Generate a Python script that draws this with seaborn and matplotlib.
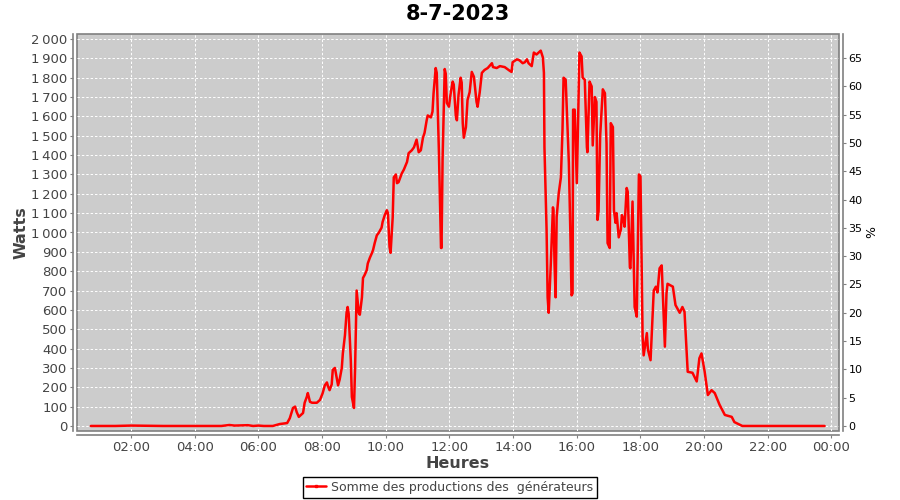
import matplotlib
matplotlib.use('Agg')
import pandas as pd
import matplotlib.pyplot as plt
import seaborn as sns
from matplotlib.ticker import FuncFormatter
from matplotlib.lines import Line2D

# données (heure, puissance en W)
heures = [
    "00:44", "01:30", "02:00", "03:00", "04:00", "04:50", "05:05", "05:15", "05:40", "05:50",
    "06:00", "06:10", "06:27", "06:40", "06:54", "06:59", "07:05", "07:09", "07:12", "07:16",
    "07:24", "07:27", "07:31", "07:33", "07:37", "07:41", "07:50", "07:56", "08:01", "08:05",
    "08:09", "08:11", "08:14", "08:18", "08:20", "08:24", "08:28", "08:30", "08:33", "08:37",
    "08:39", "08:43", "08:46", "08:48", "08:50", "08:54", "08:56", "09:00", "09:02", "09:05",
    "09:07", "09:09", "09:11", "09:15", "09:17", "09:20", "09:24", "09:26", "09:30", "09:34",
    "09:36", "09:39", "09:43", "09:47", "09:52", "09:54", "09:58", "10:02", "10:04", "10:07",
    "10:09", "10:13", "10:15", "10:19", "10:21", "10:24", "10:30", "10:34", "10:40", "10:43",
    "10:49", "10:53", "10:58", "11:02", "11:06", "11:10", "11:13", "11:17", "11:19", "11:25",
    "11:28", "11:30", "11:34", "11:36", "11:40", "11:44", "11:45", "11:47", "11:51", "11:53",
    "11:55", "11:59", "12:02", "12:06", "12:08", "12:12", "12:14", "12:17", "12:21", "12:23",
    "12:25", "12:27", "12:31", "12:34", "12:38", "12:42", "12:46", "12:51", "12:53", "12:57",
    "13:01", "13:06", "13:12", "13:20", "13:22", "13:29", "13:35", "13:44", "13:54", "13:57",
    "13:59", "14:07", "14:12", "14:18", "14:22", "14:26", "14:29", "14:35", "14:39", "14:44",
    "14:48", "14:52", "14:56", "14:58", "14:59", "15:03", "15:05", "15:07", "15:11", "15:15",
    "15:16", "15:18", "15:20", "15:22", "15:26", "15:30", "15:33", "15:35", "15:39", "15:41",
    "15:45", "15:48", "15:50", "15:52", "15:53", "15:56", "16:00", "16:02", "16:05", "16:09",
    "16:11", "16:15", "16:19", "16:20", "16:24", "16:28", "16:30", "16:34", "16:37", "16:39",
    "16:41", "16:44", "16:49", "16:53", "16:56", "16:58", "17:02", "17:04", "17:08", "17:10",
    "17:13", "17:15", "17:19", "17:23", "17:25", "17:28", "17:30", "17:34", "17:36", "17:40",
    "17:41", "17:45", "17:49", "17:53", "17:57", "18:00", "18:04", "18:06", "18:12", "18:14",
    "18:19", "18:25", "18:29", "18:32", "18:36", "18:40", "18:46", "18:49", "18:51", "19:01",
    "19:06", "19:14", "19:19", "19:23", "19:27", "19:29", "19:38", "19:46", "19:51", "19:55",
    "20:01", "20:07", "20:14", "20:20", "20:29", "20:39", "20:52", "20:57", "21:12", "22:00",
    "23:00", "23:47",
]
watts = [
    0, 0, 2, 0, 0, 0, 5, 2, 4, 0,
    2, 0, 0, 10, 15, 40, 93, 100, 72, 47,
    67, 120, 150, 170, 125, 120, 120, 135, 170, 210,
    225, 205, 185, 215, 290, 300, 240, 210, 240, 300,
    375, 470, 585, 615, 580, 340, 150, 93, 290, 700,
    640, 585, 575, 665, 765, 780, 805, 840, 870, 895,
    910, 945, 985, 1000, 1025, 1055, 1090, 1115, 1100, 925,
    895, 1080, 1285, 1300, 1255, 1260, 1305, 1325, 1365, 1410,
    1425, 1440, 1480, 1415, 1425, 1490, 1515, 1580, 1605, 1595,
    1625, 1720, 1850, 1825, 1425, 920, 920, 1380, 1845, 1820,
    1670, 1650, 1715, 1780, 1765, 1600, 1580, 1710, 1800, 1775,
    1565, 1490, 1545, 1685, 1725, 1830, 1805, 1675, 1650, 1725,
    1825, 1840, 1850, 1875, 1855, 1850, 1860, 1855, 1835, 1830,
    1880, 1895, 1890, 1875, 1880, 1895, 1875, 1860, 1930, 1920,
    1930, 1940, 1905, 1825, 1440, 1015, 665, 585, 840, 1130,
    1115, 840, 665, 1080, 1205, 1285, 1530, 1800, 1790, 1650,
    1360, 975, 675, 685, 1635, 1635, 1255, 1530, 1930, 1910,
    1800, 1790, 1440, 1415, 1780, 1755, 1450, 1700, 1675, 1065,
    1110, 1500, 1740, 1720, 1460, 945, 920, 1565, 1545, 1115,
    1050, 1100, 975, 1015, 1090, 1065, 1030, 1230, 1210, 820,
    815, 1160, 615, 565, 1300, 1290, 460, 365, 480, 395,
    340, 700, 720, 690, 815, 830, 410, 685, 735, 720,
    625, 585, 615, 590, 380, 280, 275, 230, 350, 375,
    280, 160, 185, 170, 110, 57, 47, 20, 0, 0,
    0, 0,
]
legende = "Somme des productions des  générateurs"
titre = "8-7-2023"
ticks_heures = [2, 4, 6, 8, 10, 12, 14, 16, 18, 20, 22, 24]
ticks_watts = list(range(0, 2001, 100))
ticks_pct = list(range(0, 66, 5))
ratio_pct = 29.26  # W par %

df = pd.DataFrame({"heure": heures, "watts": watts})
t = pd.to_datetime(df["heure"], format="%H:%M")
df["h"] = t.dt.hour + t.dt.minute / 60.0

sns.set_style("ticks")
plt.rcParams['font.family'] = ['DejaVu Sans']

fig = plt.figure(figsize=(9, 5), dpi=100)
ax = fig.add_axes([0.0856, 0.138, 0.8464, 0.794])
ax.set_facecolor("#cccccc")
ax.patch.set_edgecolor("#808080")
ax.patch.set_linewidth(1.2)

sns.lineplot(x="h", y="watts", data=df, color="red", linewidth=1.8, ax=ax, legend=False)

ax.set_xlim(0.30, 24.23)
ax.set_ylim(-26, 2026)
ax.set_xticks(ticks_heures)
ax.xaxis.set_major_formatter(FuncFormatter(lambda v, p: "%02d:00" % (int(round(v)) % 24)))
ax.set_yticks(ticks_watts)
ax.yaxis.set_major_formatter(FuncFormatter(lambda v, p: ("{:,}".format(int(v))).replace(",", "\u2009")))
ax.grid(True, color="white", linestyle=(0, (2.5, 2)), linewidth=0.7)

for s in ["top", "right"]:
    ax.spines[s].set_visible(False)
for s in ["left", "bottom"]:
    ax.spines[s].set_position(("outward", 3))
    ax.spines[s].set_color("#808080")
    ax.spines[s].set_linewidth(1.2)
ax.tick_params(axis="both", colors="#808080", labelcolor="#444444", labelsize=9.5,
               length=2, pad=2)

ax.set_xlabel("Heures", fontsize=11.5, fontweight="bold", color="#444444", labelpad=2)
ax.set_ylabel("Watts", fontsize=11.5, fontweight="bold", color="#444444", labelpad=2)
ax.set_title(titre, fontsize=15, fontweight="bold", color="black", pad=10)

ax2 = ax.twinx()
ax2.set_ylim(-26 / ratio_pct, 2026 / ratio_pct)
ax2.set_yticks(ticks_pct)
for s in ["top", "left", "bottom"]:
    ax2.spines[s].set_visible(False)
ax2.spines["right"].set_position(("outward", 3))
ax2.spines["right"].set_color("#808080")
ax2.spines["right"].set_linewidth(1.2)
ax2.tick_params(axis="y", colors="#808080", labelcolor="black", labelsize=8, length=2, pad=2)
ax2.set_ylabel("%", fontsize=9, color="black", labelpad=2)

h = [Line2D([], [], color="red", linewidth=1.8, marker="s", markersize=2)]
leg = fig.legend(h, [legende], loc="lower center", bbox_to_anchor=(0.5, 0.0), ncol=1,
                 fontsize=9, frameon=True, fancybox=False, framealpha=1,
                 edgecolor="black", handlelength=1.6, handletextpad=0.4,
                 borderpad=0.3, borderaxespad=0.2)
leg.get_frame().set_linewidth(1.0)
for tx in leg.get_texts():
    tx.set_color("#444444")

fig.savefig("out.png", dpi=100)
